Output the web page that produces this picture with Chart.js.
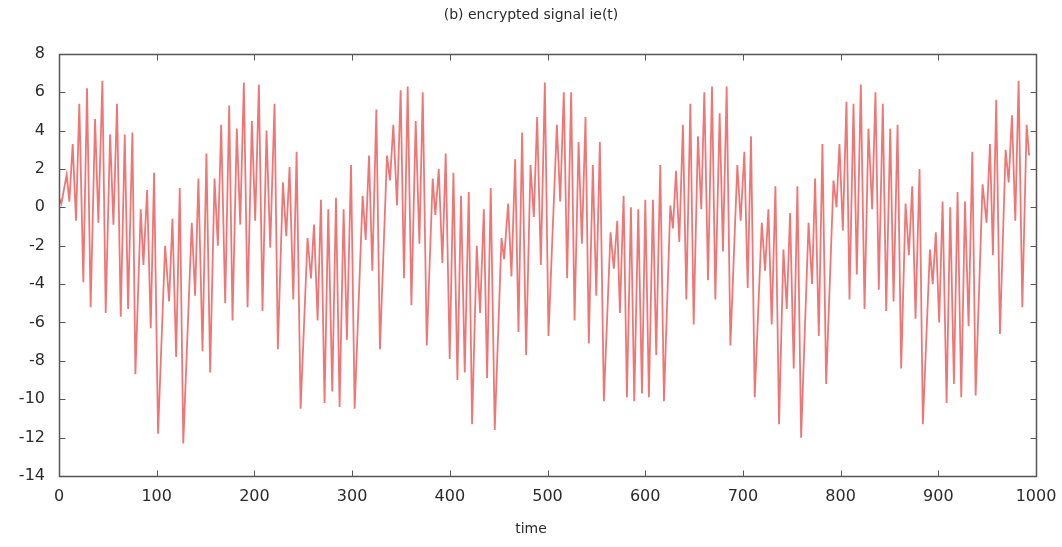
<!DOCTYPE html>
<html>
<head>
<meta charset="utf-8">
<title>encrypted signal</title>
<script src="https://cdn.jsdelivr.net/npm/chart.js@4.4.1/dist/chart.umd.min.js"></script>
<style>
    html, body { margin: 0; padding: 0; background: #ffffff; }
    #wrap { position: relative; width: 1062px; height: 547px; }
</style>
</head>
<body>
<div id="wrap"><canvas id="myChart"></canvas></div>
<script>
// sample times and signal values ie(t)
const time = [
    0, 2.4, 7.9, 10.6, 14.0, 17.4, 20.8, 24.9, 28.7, 32.4,
    36.9, 40.3, 44.4, 47.8, 52.3, 55.7, 59.4, 63.2, 67.3, 70.7,
    75.1, 78.2, 83.7, 86.4, 90.2, 93.9, 97.3, 101.4, 108.6, 112.7,
    116.1, 119.9, 123.6, 127.2, 135.9, 139.3, 142.7, 146.9, 150.9, 154.7,
    159.2, 162.6, 166.0, 170.1, 174.2, 177.6, 182.0, 185.5, 189.2, 193.0,
    197.4, 200.8, 204.6, 208.3, 212.4, 216.2, 220.6, 224.0, 229.2, 232.6,
    236.0, 239.8, 243.2, 247.3, 254.4, 257.9, 261.0, 264.7, 268.1, 271.8,
    275.6, 279.7, 283.5, 287.2, 291.3, 294.7, 298.9, 302.6, 310.8, 313.9,
    317.3, 320.7, 324.8, 328.5, 335.7, 338.8, 342.2, 346.0, 349.7, 353.1,
    356.9, 360.7, 365.1, 368.9, 372.3, 376.4, 382.5, 385.2, 388.7, 392.4,
    395.8, 399.9, 403.7, 407.8, 411.5, 415.3, 419.4, 422.8, 427.6, 431.0,
    434.8, 438.2, 441.9, 446.0, 452.9, 455.6, 459.7, 463.1, 466.9, 470.3,
    474.0, 478.1, 482.6, 486.0, 489.4, 493.2, 497.3, 501.0, 509.6, 513.0,
    516.7, 520.1, 524.2, 527.7, 531.8, 535.2, 538.9, 542.3, 546.4, 549.9,
    553.6, 557.7, 564.5, 567.9, 571.4, 574.1, 577.9, 581.3, 585.4, 588.8,
    592.9, 596.7, 600.1, 603.8, 607.9, 611.3, 615.4, 619.2, 625.7, 628.4,
    631.5, 634.9, 638.6, 642.1, 646.2, 649.6, 654.0, 657.4, 660.5, 664.3,
    668.4, 671.8, 676.2, 679.6, 683.4, 687.2, 694.3, 697.7, 701.5, 704.9,
    708.3, 712.1, 719.3, 722.7, 726.1, 729.5, 733.3, 737.0, 741.5, 744.9,
    748.3, 752.0, 755.8, 759.6, 767.2, 770.8, 773.9, 777.7, 781.4, 785.2,
    792.7, 795.8, 798.8, 802.3, 806.0, 809.1, 813.2, 816.6, 820.7, 824.5,
    828.5, 832.3, 835.7, 839.1, 843.2, 846.7, 850.8, 854.2, 858.3, 862.0,
    866.5, 869.9, 873.3, 876.7, 880.8, 884.2, 891.4, 894.3, 897.5, 900.9,
    904.4, 908.5, 912.2, 916.0, 919.7, 923.5, 927.3, 931.0, 934.8, 938.2,
    945.3, 949.4, 952.9, 955.9, 959.3, 963.1, 968.9, 972.0, 975.4, 978.8,
    982.2, 986.0, 990.4, 993.0
];
const signal = [
    0.5, 0.2, 1.7, 0.3, 3.3, -0.7, 5.4, -3.9, 6.2, -5.2,
    4.6, -0.8, 6.6, -5.5, 3.8, -0.9, 5.4, -5.7, 3.8, -5.3,
    3.9, -8.7, -0.1, -3.0, 0.9, -6.3, 1.8, -11.8, -2.0, -4.9,
    -0.6, -7.8, 1.0, -12.3, -0.8, -4.6, 1.5, -7.5, 2.8, -8.6,
    1.5, -2.0, 4.3, -5.0, 5.3, -5.9, 4.1, -0.9, 6.5, -5.2,
    4.5, -0.7, 6.4, -5.4, 4.0, -2.1, 5.4, -7.4, 1.3, -1.5,
    2.1, -4.8, 2.9, -10.5, -1.6, -3.7, -0.9, -5.9, 0.4, -10.2,
    -0.1, -9.6, 0.5, -10.4, -0.1, -6.9, 2.2, -10.5, 0.6, -1.7,
    2.7, -3.3, 5.1, -7.4, 2.7, 1.4, 4.3, 0.1, 6.1, -3.7,
    6.3, -5.1, 4.5, -1.9, 6.0, -7.2, 1.5, -0.4, 2.0, -2.9,
    2.8, -7.9, 1.8, -9.0, 0.6, -8.6, 0.8, -11.3, -2.0, -5.5,
    -0.1, -8.9, 1.0, -11.6, -1.6, -2.7, 0.2, -3.6, 2.5, -6.5,
    3.9, -7.7, 2.2, -0.5, 4.7, -3.0, 6.5, -6.7, 4.3, 0.3,
    6.0, -3.7, 6.0, -5.9, 3.4, -1.9, 4.7, -7.1, 2.2, -4.6,
    3.4, -10.1, -1.3, -3.2, -0.7, -5.5, 0.6, -9.9, 0.0, -10.1,
    -0.1, -9.7, 0.4, -9.9, 0.4, -7.7, 2.2, -10.1, 0.1, -1.1,
    1.9, -1.8, 4.3, -4.8, 5.4, -6.1, 3.7, -0.1, 6.0, -3.8,
    6.3, -4.8, 4.9, -2.3, 6.3, -7.2, 2.2, -0.7, 2.9, -4.2,
    3.7, -9.9, -0.8, -3.3, -0.1, -6.1, 1.1, -11.3, -2.2, -5.3,
    -0.3, -8.4, 1.1, -12.0, -0.8, -4.0, 1.5, -6.7, 3.3, -9.2,
    1.4, 0.0, 3.3, -1.2, 5.5, -4.8, 5.4, -3.5, 6.4, -5.3,
    4.1, -0.1, 6.0, -4.3, 5.4, -5.4, 4.1, -4.9, 4.3, -8.4,
    0.2, -2.5, 1.1, -5.8, 2.0, -11.3, -2.2, -4.0, -1.3, -6.0,
    0.3, -10.2, 0.0, -9.2, 0.8, -9.9, 0.3, -6.2, 2.9, -9.8,
    1.2, -0.8, 3.3, -2.5, 5.6, -6.6, 3.0, 1.3, 4.8, -0.7,
    6.6, -5.2, 4.3, 2.7
];
const xTicks = [0, 100, 200, 300, 400, 500, 600, 700, 800, 900, 1000];
const yTicks = [-14, -12, -10, -8, -6, -4, -2, 0, 2, 4, 6, 8];

const lineColor = "#f07676";
const frameColor = "#555555";
const textColor = "#2b2b2b";
const fontFamily = "'DejaVu Sans', Verdana, sans-serif";

// box around the plot with short inward tick marks on all four sides,
// plus the "time" caption centred under the whole canvas
const framePlugin = {
    id: "frame",
    afterDraw(chart) {
        const ctx = chart.ctx;
        const xs = chart.scales.x;
        const ys = chart.scales.y;
        const l = Math.round(xs.getPixelForValue(0)) + 0.5;
        const r = Math.round(xs.getPixelForValue(1000)) + 0.5;
        const t = Math.round(ys.getPixelForValue(8)) + 0.5;
        const b = Math.round(ys.getPixelForValue(-14)) + 0.5;
        const len = 6;

        ctx.save();
        ctx.strokeStyle = frameColor;
        ctx.lineWidth = 1.5;
        ctx.beginPath();
        ctx.moveTo(l, t);
        ctx.lineTo(r, t);
        ctx.lineTo(r, b);
        ctx.lineTo(l, b);
        ctx.closePath();
        ctx.stroke();

        ctx.lineWidth = 1;
        ctx.beginPath();
        xTicks.forEach(v => {
            const px = Math.round(xs.getPixelForValue(v)) + 0.5;
            ctx.moveTo(px, b);
            ctx.lineTo(px, b - len);
            ctx.moveTo(px, t);
            ctx.lineTo(px, t + len);
        });
        yTicks.forEach(v => {
            const py = Math.round(ys.getPixelForValue(v)) + 0.5;
            ctx.moveTo(l, py);
            ctx.lineTo(l + len, py);
            ctx.moveTo(r, py);
            ctx.lineTo(r - len, py);
        });
        ctx.stroke();

        ctx.fillStyle = textColor;
        ctx.font = "14px " + fontFamily;
        ctx.textAlign = "center";
        ctx.textBaseline = "middle";
        ctx.fillText("time", chart.width / 2, 529);
        ctx.restore();
    }
};

document.addEventListener("DOMContentLoaded", function () {
    const points = time.map((t, i) => ({ x: t, y: signal[i] }));

    new Chart("myChart", {
        type: "line",
        data: {
            datasets: [{
                label: "ie(t)",
                data: points,
                borderColor: lineColor,
                borderWidth: 1.8,
                pointRadius: 0,
                tension: 0,
                fill: false
            }]
        },
        options: {
            responsive: true,
            maintainAspectRatio: false,
            animation: false,
            layout: { padding: 0 },
            plugins: {
                legend: { display: false },
                tooltip: { enabled: false },
                title: {
                    display: true,
                    text: "(b) encrypted signal ie(t)",
                    color: textColor,
                    font: { family: fontFamily, size: 14, weight: "normal" },
                    padding: { top: 7, bottom: 30 }
                }
            },
            scales: {
                x: {
                    type: "linear",
                    min: 0,
                    max: 1000,
                    afterFit(scale) {
                        scale.height = 71;
                        scale.paddingRight = 20;
                    },
                    afterBuildTicks(scale) { scale.ticks = xTicks.map(v => ({ value: v })); },
                    grid: { display: false, drawTicks: false },
                    border: { display: false },
                    ticks: {
                        color: textColor,
                        padding: 11,
                        maxRotation: 0,
                        font: { family: fontFamily, size: 16 },
                        callback: v => String(v)
                    }
                },
                y: {
                    min: -14,
                    max: 8,
                    afterFit(scale) { scale.width = 59; },
                    afterBuildTicks(scale) { scale.ticks = yTicks.map(v => ({ value: v })); },
                    grid: { display: false, drawTicks: false },
                    border: { display: false },
                    ticks: {
                        color: textColor,
                        padding: 14,
                        font: { family: fontFamily, size: 16 },
                        callback: v => String(v)
                    }
                },
                // empty strip on the right that keeps the plot clear of the edge
                y2: {
                    position: "right",
                    min: -14,
                    max: 8,
                    afterFit(scale) { scale.width = 26; },
                    grid: { display: false, drawTicks: false },
                    border: { display: false },
                    ticks: { display: false }
                }
            }
        },
        plugins: [framePlugin]
    });
});
</script>
</body>
</html>
